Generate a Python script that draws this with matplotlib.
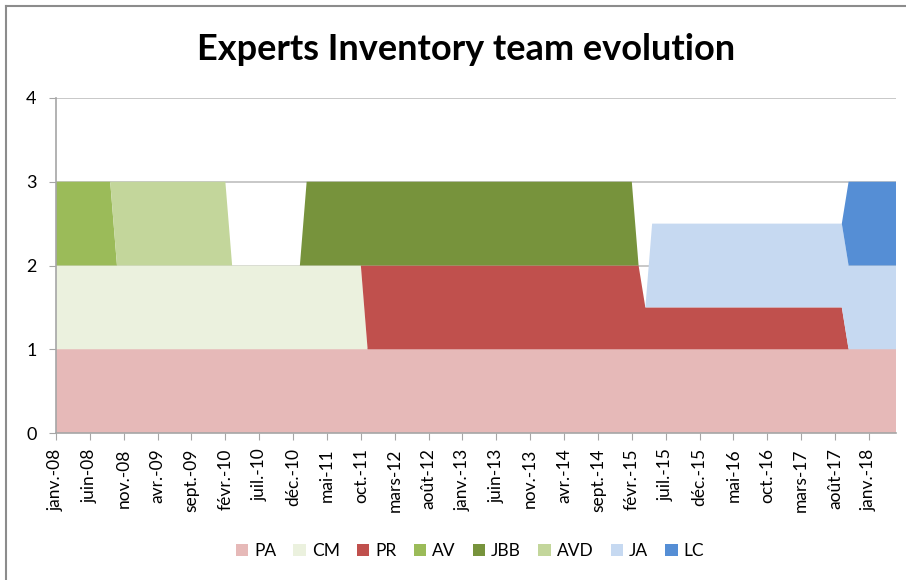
import matplotlib
matplotlib.use("Agg")
import matplotlib.pyplot as plt
from matplotlib.lines import Line2D
import numpy as np

plt.rcParams['font.family'] = ['Lato', 'DejaVu Sans']

# Series as runs of (value, number of months), monthly from janv.-08 to mai-18
series_names = ["PA", "CM", "PR", "AV", "JBB", "AVD", "JA", "LC"]
PA_runs = [(1, 125)]
CM_runs = [(1, 46), (0, 79)]
PR_runs = [(0, 46), (1, 41), (0.5, 30), (0, 8)]
AV_runs = [(1, 9), (0, 116)]
JBB_runs = [(0, 37), (1, 49), (0, 39)]
AVD_runs = [(0, 9), (1, 17), (0, 99)]
JA_runs = [(0, 88), (1, 37)]
LC_runs = [(0, 117), (1, 8)]

colors = ["#E6B9B8", "#EBF1DE", "#C0504D", "#9BBB59", "#77933C", "#C3D69B", "#C6D9F1", "#558ED5"]

tick_labels = ["janv.-08", "juin-08", "nov.-08", "avr.-09", "sept.-09", "févr.-10",
               "juil.-10", "déc.-10", "mai-11", "oct.-11", "mars-12", "août-12",
               "janv.-13", "juin-13", "nov.-13", "avr.-14", "sept.-14", "févr.-15",
               "juil.-15", "déc.-15", "mai-16", "oct.-16", "mars-17", "août-17", "janv.-18"]
tick_step = 5

def expand(runs):
    out = []
    for v, n in runs:
        out += [v] * n
    return out

all_runs = [PA_runs, CM_runs, PR_runs, AV_runs, JBB_runs, AVD_runs, JA_runs, LC_runs]
ys = [expand(r) for r in all_runs]
n = len(ys[0])
x = np.arange(n)

fig = plt.figure(figsize=(9.06, 5.80), dpi=100)
W, H = 906, 580
ax = fig.add_axes([56 / W, 1 - 433 / H, (896 - 56) / W, (433 - 98) / H])

ax.stackplot(x, *ys, colors=colors, labels=series_names, linewidth=0, zorder=2)

ax.set_xlim(0, n - 1)
ax.set_ylim(0, 4)
ax.set_yticks([0, 1, 2, 3, 4])
ax.set_xticks(np.arange(0, n, tick_step)[:len(tick_labels)])
ax.set_xticklabels(tick_labels, rotation=90, fontsize=12.5)
ax.tick_params(axis='y', labelsize=13, length=5, color="#A6A6A6", pad=9)
ax.tick_params(axis='x', length=5, color="#A6A6A6", pad=6)
ax.grid(axis='y', color="#BFBFBF", linewidth=1.2, zorder=0)
ax.set_axisbelow(True)
for s in ["top", "right"]:
    ax.spines[s].set_visible(False)
for s in ["left", "bottom"]:
    ax.spines[s].set_color("#A6A6A6")
    ax.spines[s].set_linewidth(1.2)

fig.text(466 / W, 1 - 50 / H, "Experts Inventory team evolution", ha="center", va="center",
         fontsize=26, fontweight="bold")

handles, labels = ax.get_legend_handles_labels()
fig.legend(handles, labels, loc="center", bbox_to_anchor=(470 / W, 1 - 551 / H), ncol=8,
           frameon=False, fontsize=12.5, handlelength=0.7, handleheight=0.7,
           handletextpad=0.35, columnspacing=1.0)

# chart border (left and top visible)
fig.add_artist(Line2D([6 / W, 6 / W], [0, 1 - 6 / H], color="#8C8C8C", linewidth=1.5))
fig.add_artist(Line2D([6 / W, 1], [1 - 6 / H, 1 - 6 / H], color="#8C8C8C", linewidth=1.5))

fig.savefig("out.png", dpi=100)
